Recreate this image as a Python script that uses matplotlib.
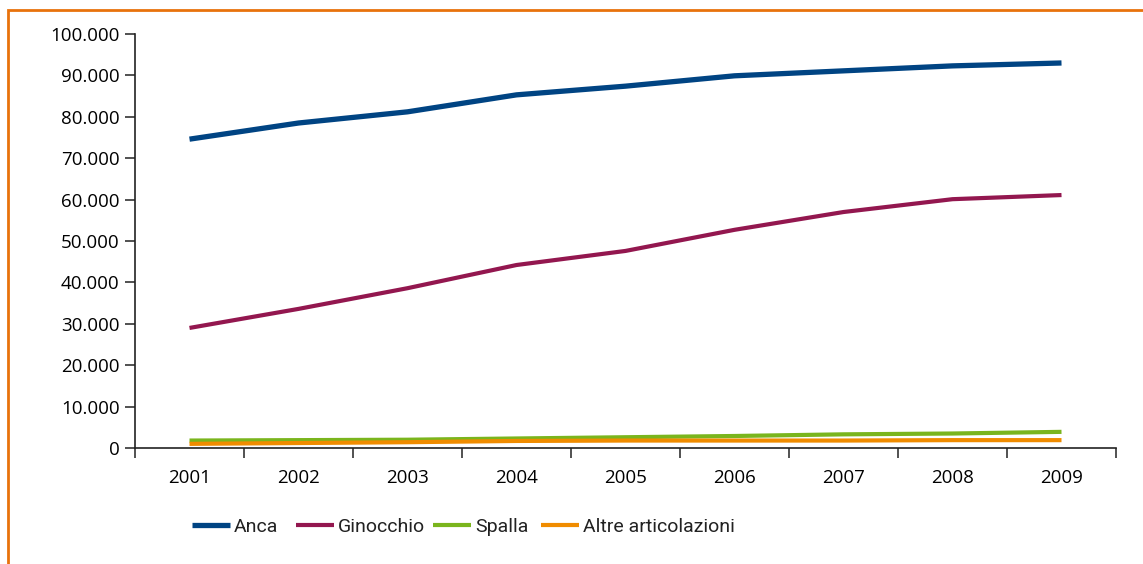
import matplotlib
matplotlib.use("Agg")
import matplotlib.pyplot as plt
from matplotlib.patches import Rectangle
from matplotlib.ticker import FuncFormatter, FixedLocator

# Data
years = ["2001", "2002", "2003", "2004", "2005", "2006", "2007", "2008", "2009"]
anca = [74600, 78500, 81200, 85300, 87400, 89900, 91100, 92300, 93000]
ginocchio = [29000, 33600, 38600, 44200, 47600, 52700, 57000, 60100, 61100]
spalla = [1800, 1900, 2000, 2300, 2600, 2900, 3300, 3500, 3900]
altre = [1000, 1200, 1400, 1700, 1800, 1800, 1800, 1900, 1900]

series = [
    ("Anca", anca, "#004483", 3.8),
    ("Ginocchio", ginocchio, "#93174f", 3.0),
    ("Spalla", spalla, "#7ab51d", 3.0),
    ("Altre articolazioni", altre, "#f08c00", 3.0),
]
# left edge of each legend entry, in pixels
legend_x = [192, 296, 433, 541]

plt.rcParams["font.family"] = ["Open Sans", "DejaVu Sans"]

fig = plt.figure(figsize=(11.43, 5.64), dpi=100)
ax = fig.add_axes([135 / 1143, 1 - 448 / 564, (1116 - 135) / 1143, (448 - 34) / 564])

x = list(range(len(years)))
lines = []
for name, vals, color, lw in series:
    ln, = ax.plot(x, vals, color=color, lw=lw, label=name, solid_capstyle="butt")
    lines.append(ln)

ax.set_xlim(-0.5, len(years) - 0.5)
ax.set_ylim(0, 100000)
ax.set_yticks(range(0, 100001, 10000))
ax.yaxis.set_major_formatter(FuncFormatter(lambda v, p: f"{v:,.0f}".replace(",", ".")))

ax.set_xticks(x)
ax.set_xticklabels(years)
ax.xaxis.set_minor_locator(FixedLocator([i - 0.5 for i in range(len(years) + 1)]))
ax.tick_params(axis="x", which="major", length=0, pad=15, labelsize=13.5)
ax.tick_params(axis="x", which="minor", length=7, width=1.2, color="#333333")
ax.tick_params(axis="y", length=7, width=1.2, color="#333333", pad=4, labelsize=13.5)

for side in ("top", "right"):
    ax.spines[side].set_visible(False)
for side in ("left", "bottom"):
    ax.spines[side].set_linewidth(1.2)
    ax.spines[side].set_color("#222222")

# one legend per entry so the spacing follows the reference
for ln, lx in zip(lines, legend_x):
    fig.legend(handles=[ln], loc="center left", bbox_to_anchor=(lx / 1143, 1 - 527 / 564),
               frameon=False, borderpad=0, borderaxespad=0,
               handlelength=1.95, handletextpad=0.2,
               prop={"family": ["Roboto", "DejaVu Sans"], "size": 14},
               labelcolor="#222222")

# orange frame around the figure (top and left edges visible)
fig.add_artist(Rectangle((8 / 1143, -0.05), 1.1, 1 - 10 / 564 + 0.05,
                         transform=fig.transFigure, fill=False,
                         edgecolor="#e8720c", lw=2, clip_on=False))

fig.savefig("out.png", dpi=100)
